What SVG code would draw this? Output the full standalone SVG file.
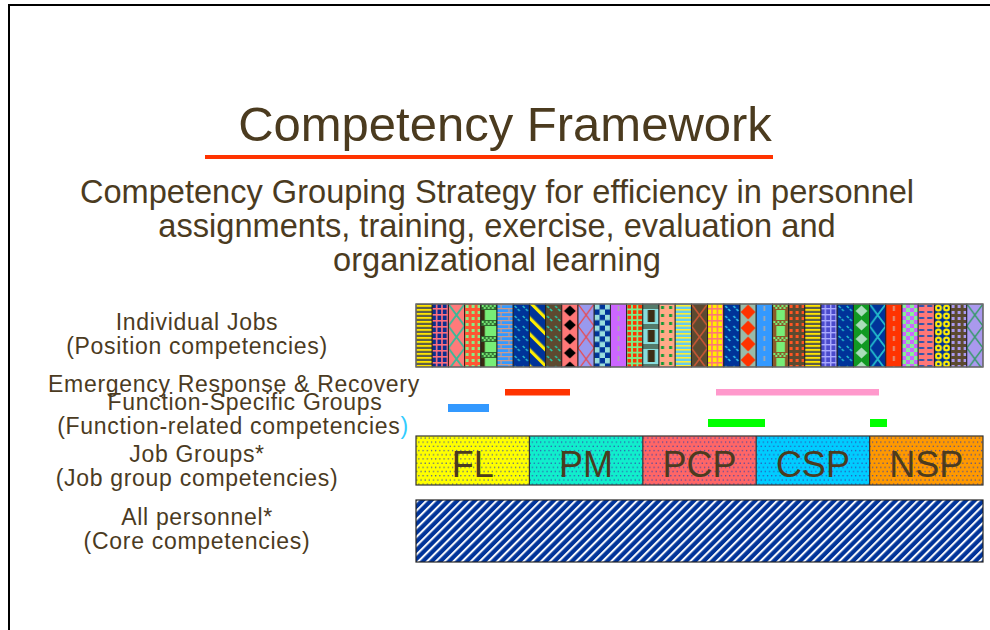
<svg xmlns="http://www.w3.org/2000/svg" width="990" height="630" viewBox="0 0 990 630">
<style>
text{font-family:"Liberation Sans",Arial,sans-serif;fill:#4b3b1f}
.lbl{font-size:23px;letter-spacing:0.7px;text-anchor:middle}
.grp{font-size:36px;text-anchor:middle}
.col{stroke:#1e1e1e;stroke-width:0.9}
</style>
<defs>
<pattern id="p1" width="16.2" height="4" patternUnits="userSpaceOnUse"><rect width="16.2" height="4" fill="#5f604a"/><rect y="1" width="16.2" height="1.8" fill="#ffe600"/></pattern>
<pattern id="p2" width="5.4" height="6" patternUnits="userSpaceOnUse"><rect width="5.4" height="6" fill="#0a2f8f"/><rect x="3.6" width="1.6" height="6" fill="#ff6f7f"/><rect y="4" width="5.4" height="1.6" fill="#ff6f7f"/></pattern>
<pattern id="p3" width="16.2" height="22" patternUnits="userSpaceOnUse"><rect width="16.2" height="22" fill="#ff7a7a"/><path d="M0,0L16.2,22M16.2,0L0,22" stroke="#33bb99" stroke-width="1.8"/></pattern>
<pattern id="p4" width="6" height="6" patternUnits="userSpaceOnUse"><rect width="6" height="6" fill="#ff5533"/><rect x="1" y="1" width="3" height="3" fill="#88ee88"/></pattern>
<pattern id="p5" width="16.2" height="16" patternUnits="userSpaceOnUse"><rect width="16.2" height="16" fill="#77ee77"/><rect width="4" height="16" fill="#3a2a12"/><rect y="0" width="16.2" height="6" fill="#2f6a2f"/><path d="M1,1h2v2h-2zM5,1h2v2h-2zM9,1h2v2h-2zM13,1h2v2h-2zM3,3h2v2h-2zM7,3h2v2h-2zM11,3h2v2h-2z" fill="#77ee77"/></pattern>
<pattern id="p23" width="16.2" height="16" patternUnits="userSpaceOnUse"><rect width="16.2" height="16" fill="#77ee77"/><rect width="4" height="16" fill="#8a5a2a"/><rect x="12.5" width="3.7" height="16" fill="#8a5a2a"/><rect y="0" width="16.2" height="6" fill="#8a5a2a"/><path d="M1,1h2v2h-2zM5,1h2v2h-2zM9,1h2v2h-2zM13,1h2v2h-2zM3,3h2v2h-2zM7,3h2v2h-2zM11,3h2v2h-2z" fill="#77ee77"/></pattern>
<pattern id="p6" width="16.2" height="8" patternUnits="userSpaceOnUse"><rect width="16.2" height="8" fill="#3399ff"/><path d="M0,0.6H16.2M0,4.6H16.2M4,0.6V4.6M12,4.6V8.6" stroke="#cc9988" stroke-width="1.2" fill="none"/></pattern>
<pattern id="p7" width="8.1" height="10" patternUnits="userSpaceOnUse"><rect width="8.1" height="10" fill="#003399"/><path d="M1.5,2L3.5,4M4.5,5L6.5,7" stroke="#22bbcc" stroke-width="1.6"/></pattern>
<pattern id="p20" width="8.1" height="10" patternUnits="userSpaceOnUse"><rect width="8.1" height="10" fill="#003399"/><path d="M1.5,2L3.5,4M4.5,5L6.5,7" stroke="#33ccee" stroke-width="1.6"/></pattern>
<pattern id="p9" width="8.1" height="10" patternUnits="userSpaceOnUse"><rect width="8.1" height="10" fill="#5c4a30"/><path d="M1.5,2L3.5,4M4.5,5L6.5,7" stroke="#22ccaa" stroke-width="1.6"/></pattern>
<pattern id="p8" width="11.3" height="10" patternUnits="userSpaceOnUse" patternTransform="rotate(-45)"><rect width="11.3" height="10" fill="#003399"/><rect width="3.2" height="10" fill="#ffee00"/></pattern>
<pattern id="p10" width="16.2" height="14" patternUnits="userSpaceOnUse"><rect width="16.2" height="14" fill="#ff7777"/><polygon points="8.1,1.5 14,7 8.1,12.5 2.2,7" fill="#000"/></pattern>
<pattern id="p11" width="16.2" height="22" patternUnits="userSpaceOnUse"><rect width="16.2" height="22" fill="#9999ee"/><path d="M0,0L16.2,22M16.2,0L0,22" stroke="#ee4444" stroke-width="1.2"/></pattern>
<pattern id="p12" width="10.8" height="10.8" patternUnits="userSpaceOnUse"><rect width="10.8" height="10.8" fill="#003399"/><rect width="5.4" height="5.4" fill="#99dddd"/><rect x="5.4" y="5.4" width="5.4" height="5.4" fill="#99dddd"/></pattern>
<pattern id="p13" width="16.2" height="10" patternUnits="userSpaceOnUse"><rect width="16.2" height="10" fill="#cc66ff"/><rect x="7.3" y="2" width="1.6" height="5" fill="#aaaaaa"/></pattern>
<pattern id="p22" width="16.2" height="10" patternUnits="userSpaceOnUse"><rect width="16.2" height="10" fill="#3399ff"/><rect x="7.3" y="2" width="1.6" height="5" fill="#aaaaaa"/></pattern>
<pattern id="p30" width="16.2" height="10" patternUnits="userSpaceOnUse"><rect width="16.2" height="10" fill="#ff3300"/><rect x="7.3" y="2" width="1.6" height="5" fill="#ddaa99"/></pattern>
<pattern id="p14" width="5.4" height="5.4" patternUnits="userSpaceOnUse"><rect width="5.4" height="5.4" fill="#77ee88"/><rect x="0.9" y="0.9" width="3.6" height="3.6" fill="#ff3300"/></pattern>
<pattern id="p15" width="16.2" height="20" patternUnits="userSpaceOnUse"><rect width="16.2" height="20" fill="#88dddd"/><rect width="16.2" height="5" fill="#557a6a"/><rect x="5" y="6" width="7" height="12" fill="#3c2c14"/></pattern>
<pattern id="p16" width="8.1" height="8" patternUnits="userSpaceOnUse"><rect width="8.1" height="8" fill="#ffaa88"/><rect x="2" y="2" width="3" height="3" fill="#119933"/></pattern>
<pattern id="p17" width="16.2" height="4" patternUnits="userSpaceOnUse"><rect width="16.2" height="4" fill="#66ccee"/><rect y="1" width="16.2" height="1.6" fill="#ffee33"/></pattern>
<pattern id="p18" width="16.2" height="22" patternUnits="userSpaceOnUse"><rect width="16.2" height="22" fill="#5c4a30"/><path d="M0,0L16.2,22M16.2,0L0,22" stroke="#cc5533" stroke-width="1.6"/></pattern>
<pattern id="p19" width="5.4" height="6" patternUnits="userSpaceOnUse"><rect width="5.4" height="6" fill="#ffee00"/><rect x="3.6" width="1.6" height="6" fill="#ff7777"/><rect y="4" width="5.4" height="1.6" fill="#ff7777"/></pattern>
<pattern id="p21" width="16.2" height="16" patternUnits="userSpaceOnUse"><rect width="16.2" height="16" fill="#99bbaa"/><polygon points="8.1,0.5 15.5,8 8.1,15.5 0.7,8" fill="#ff3300"/></pattern>
<pattern id="p24" width="6" height="6" patternUnits="userSpaceOnUse"><rect width="6" height="6" fill="#5c4a30"/><rect x="1" y="1" width="3" height="3" fill="#ff5522"/></pattern>
<pattern id="p26" width="5.4" height="6" patternUnits="userSpaceOnUse"><rect width="5.4" height="6" fill="#4a4acc"/><rect x="3.6" width="1.4" height="6" fill="#aaaaff"/><rect y="4" width="5.4" height="1.4" fill="#aaaaff"/></pattern>
<pattern id="p28" width="16.2" height="14" patternUnits="userSpaceOnUse"><rect width="16.2" height="14" fill="#119922"/><polygon points="8.1,1.5 14,7 8.1,12.5 2.2,7" fill="#aaddbb"/></pattern>
<pattern id="p29" width="16.2" height="22" patternUnits="userSpaceOnUse"><rect width="16.2" height="22" fill="#003399"/><path d="M0,0L16.2,22M16.2,0L0,22" stroke="#22bbcc" stroke-width="1.8"/></pattern>
<pattern id="p31" width="8" height="8" patternUnits="userSpaceOnUse"><rect width="8" height="8" fill="#cc66ff"/><rect width="4" height="4" fill="#88ee99"/><rect x="4" y="4" width="4" height="4" fill="#88ee99"/></pattern>
<pattern id="p32" width="8.1" height="6" patternUnits="userSpaceOnUse"><rect width="8.1" height="6" fill="#ff7777"/><rect x="1" y="1" width="5" height="2" fill="#3355aa"/></pattern>
<pattern id="p33" width="8.1" height="8" patternUnits="userSpaceOnUse"><rect width="8.1" height="8" fill="#003399"/><circle cx="4" cy="4" r="3.5" fill="#ffee00"/><circle cx="4" cy="4" r="1.3" fill="#003399"/></pattern>
<pattern id="p34" width="6" height="6" patternUnits="userSpaceOnUse"><rect width="6" height="6" fill="#5c4a30"/><rect x="1" y="1" width="3" height="3" fill="#aa99ee"/></pattern>
<pattern id="p35" width="16.2" height="22" patternUnits="userSpaceOnUse"><rect width="16.2" height="22" fill="#aa99ee"/><path d="M0,0L16.2,22M16.2,0L0,22" stroke="#339966" stroke-width="1.4"/></pattern>
<pattern id="dots" width="4.2" height="8.4" patternUnits="userSpaceOnUse"><circle cx="1" cy="1.2" r="0.7" fill="#3344aa"/><circle cx="3.1" cy="5.4" r="0.7" fill="#3344aa"/></pattern>
<pattern id="diag" width="6.2" height="10" patternUnits="userSpaceOnUse" patternTransform="rotate(45)"><rect width="6.2" height="10" fill="#003399"/><rect x="3.6" width="2" height="10" fill="#ffffff"/></pattern>
</defs>

<rect width="990" height="630" fill="#ffffff"/>
<path d="M9,630V5H990" fill="none" stroke="#000" stroke-width="2"/>

<g id="title">
<text x="505" y="141" style="font-size:49px;text-anchor:middle">Competency Framework</text>
<rect x="205" y="155" width="568" height="4" fill="#ff3300"/>
</g>
<g id="subtitle" style="font-size:32.6px;text-anchor:middle">
<text x="497" y="203">Competency Grouping Strategy for efficiency in personnel</text>
<text x="497" y="237">assignments, training, exercise, evaluation and</text>
<text x="497" y="271">organizational learning</text>
</g>

<g id="labels">
<text class="lbl" x="197" y="330">Individual Jobs</text>
<text class="lbl" x="197" y="354">(Position competencies)</text>
<text class="lbl" x="234" y="392">Emergency Response &amp; Recovery</text>
<text class="lbl" x="245" y="410">Function-Specific Groups</text>
<text class="lbl" x="233" y="434">(Function-related competencies<tspan style="fill:#33ccff">)</tspan></text>
<text class="lbl" x="197" y="462">Job Groups*</text>
<text class="lbl" x="197" y="486">(Job group competencies)</text>
<text class="lbl" x="197" y="525">All personnel*</text>
<text class="lbl" x="197" y="549">(Core competencies)</text>
</g>

<g id="individual-jobs">
<rect class="col" transform="translate(416,304)" width="16.2" height="63" fill="url(#p1)"/>
<rect class="col" transform="translate(432.2,304)" width="16.2" height="63" fill="url(#p2)"/>
<rect class="col" transform="translate(448.4,304)" width="16.2" height="63" fill="url(#p3)"/>
<rect class="col" transform="translate(464.6,304)" width="16.2" height="63" fill="url(#p4)"/>
<rect class="col" transform="translate(480.8,304)" width="16.2" height="63" fill="url(#p5)"/>
<rect class="col" transform="translate(497,304)" width="16.2" height="63" fill="url(#p6)"/>
<rect class="col" transform="translate(513.2,304)" width="16.2" height="63" fill="url(#p7)"/>
<rect class="col" transform="translate(529.4,304)" width="16.2" height="63" fill="url(#p8)"/>
<rect class="col" transform="translate(545.6,304)" width="16.2" height="63" fill="url(#p9)"/>
<rect class="col" transform="translate(561.8,304)" width="16.2" height="63" fill="url(#p10)"/>
<rect class="col" transform="translate(578,304)" width="16.2" height="63" fill="url(#p11)"/>
<rect class="col" transform="translate(594.2,304)" width="16.2" height="63" fill="url(#p12)"/>
<rect class="col" transform="translate(610.4,304)" width="16.2" height="63" fill="url(#p13)"/>
<rect class="col" transform="translate(626.6,304)" width="16.2" height="63" fill="url(#p14)"/>
<rect class="col" transform="translate(642.8,304)" width="16.2" height="63" fill="url(#p15)"/>
<rect class="col" transform="translate(659,304)" width="16.2" height="63" fill="url(#p16)"/>
<rect class="col" transform="translate(675.2,304)" width="16.2" height="63" fill="url(#p17)"/>
<rect class="col" transform="translate(691.4,304)" width="16.2" height="63" fill="url(#p18)"/>
<rect class="col" transform="translate(707.6,304)" width="16.2" height="63" fill="url(#p19)"/>
<rect class="col" transform="translate(723.8,304)" width="16.2" height="63" fill="url(#p20)"/>
<rect class="col" transform="translate(740,304)" width="16.2" height="63" fill="url(#p21)"/>
<rect class="col" transform="translate(756.2,304)" width="16.2" height="63" fill="url(#p22)"/>
<rect class="col" transform="translate(772.4,304)" width="16.2" height="63" fill="url(#p23)"/>
<rect class="col" transform="translate(788.6,304)" width="16.2" height="63" fill="url(#p24)"/>
<rect class="col" transform="translate(804.8,304)" width="16.2" height="63" fill="url(#p1)"/>
<rect class="col" transform="translate(821,304)" width="16.2" height="63" fill="url(#p26)"/>
<rect class="col" transform="translate(837.2,304)" width="16.2" height="63" fill="url(#p7)"/>
<rect class="col" transform="translate(853.4,304)" width="16.2" height="63" fill="url(#p28)"/>
<rect class="col" transform="translate(869.6,304)" width="16.2" height="63" fill="url(#p29)"/>
<rect class="col" transform="translate(885.8,304)" width="16.2" height="63" fill="url(#p30)"/>
<rect class="col" transform="translate(902,304)" width="16.2" height="63" fill="url(#p31)"/>
<rect class="col" transform="translate(918.2,304)" width="16.2" height="63" fill="url(#p32)"/>
<rect class="col" transform="translate(934.4,304)" width="16.2" height="63" fill="url(#p33)"/>
<rect class="col" transform="translate(950.6,304)" width="16.2" height="63" fill="url(#p34)"/>
<rect class="col" transform="translate(966.8,304)" width="16.2" height="63" fill="url(#p35)"/>
<rect x="416" y="304" width="567" height="63" fill="none" stroke="#7a7a7a" stroke-width="1.2"/>
</g>

<g id="function-groups">
<rect x="505" y="389" width="65" height="6.5" fill="#ff3300"/>
<rect x="716" y="389" width="163" height="6.5" fill="#ff99cc"/>
<rect x="448" y="404" width="41" height="8" fill="#3399ff"/>
<rect x="708" y="419" width="57" height="8" fill="#00ff00"/>
<rect x="870" y="419" width="17" height="8" fill="#00ff00"/>
</g>

<g id="job-groups">
<rect x="416" y="436" width="113.4" height="49" fill="#ffff00"/>
<rect x="529.4" y="436" width="113.4" height="49" fill="#11eecc"/>
<rect x="642.8" y="436" width="113.4" height="49" fill="#ff6666"/>
<rect x="756.2" y="436" width="113.4" height="49" fill="#00ccff"/>
<rect x="869.6" y="436" width="113.4" height="49" fill="#ff9900"/>
<rect x="416" y="436" width="567" height="49" fill="url(#dots)"/>
<g fill="none" stroke="#333" stroke-width="1.2">
<rect x="416" y="436" width="567" height="49"/>
<path d="M529.4,436V485M642.8,436V485M756.2,436V485M869.6,436V485"/>
</g>
<text class="grp" x="472.7" y="477">FL</text>
<text class="grp" x="586.1" y="477">PM</text>
<text class="grp" x="699.5" y="477">PCP</text>
<text class="grp" x="812.9" y="477">CSP</text>
<text class="grp" x="926.3" y="477">NSP</text>
</g>

<g id="all-personnel">
<rect x="416" y="500" width="567" height="62" fill="url(#diag)" stroke="#222" stroke-width="1.2"/>
</g>
</svg>
